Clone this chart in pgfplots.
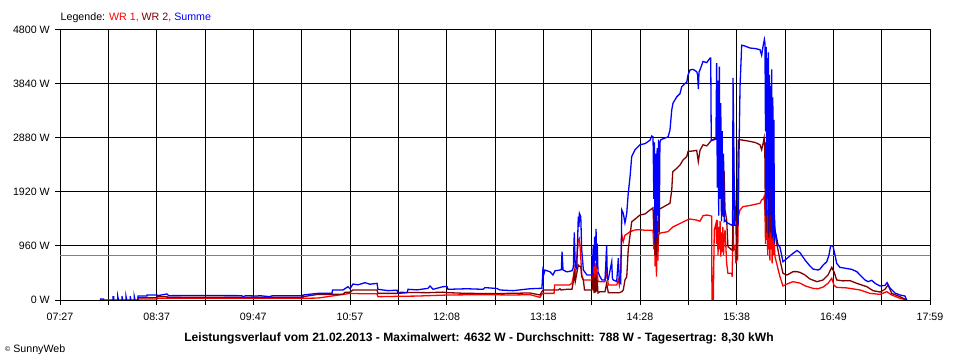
\documentclass[border=0pt]{standalone}
\usepackage{pgfplots}
\pgfplotsset{compat=1.18}
\usepackage{fontspec}
\setmainfont{Liberation Sans}
\definecolor{wrone}{RGB}{255,0,0}
\definecolor{wrtwo}{RGB}{128,0,0}
\definecolor{summe}{RGB}{0,0,255}
\definecolor{avgc}{RGB}{128,128,128}
\begin{document}
\fontsize{10.7}{12}\selectfont
\begin{tikzpicture}
\useasboundingbox (0,0) rectangle (960bp,360bp);
\begin{axis}[
  at={(60bp,60bp)}, anchor=south west,
  scale only axis, width=870bp, height=270bp,
  xmin=0, xmax=632, ymin=0, ymax=4800,
  axis line style={black, line width=1bp},
  xtick={0,70.222,140.444,210.667,280.889,351.111,421.333,491.556,561.778,632},
  xticklabels={07:27,08:37,09:47,10:57,12:08,13:18,14:28,15:38,16:49,17:59},
  minor xtick={35.111,105.333,175.556,245.778,316,386.222,456.444,526.667,596.889},
  ytick={0,960,1920,2880,3840,4800},
  yticklabels={0 W,960 W,1920 W,2880 W,3840 W,4800 W},
  xtick pos=left, ytick pos=left,
  tick align=outside,
  major tick length=5bp, minor tick length=5bp,
  tick style={black, line width=1bp},
  minor tick style={black, line width=1bp},
  xmajorgrids, xminorgrids, ymajorgrids,
  major grid style={black, line width=1bp},
  minor grid style={black, line width=1bp},
  xticklabel style={anchor=base, yshift=-15bp},
  yticklabel style={anchor=east, xshift=-1.5bp},
  every axis plot/.append style={line width=1.3bp, line join=miter},
]
\addplot[avgc, line width=1bp] coordinates {(0,788)(632,788)};
% WR 1
\addplot[wrone] coordinates {
(56.7,0)(56.7,18)(70.5,18)(70.5,30)(176.5,30)(187.4,35)(197.6,71)(210.7,118)(221.6,110)(230.3,110)(231,59)(244.8,65)(259.3,70)(281.9,89)(307.3,95)(329.1,89)(341.4,95)(348.7,47)(350.1,107)(350.9,118)(358.9,118)(359.3,267)(370,267)(371.9,296)(372.9,414)(373.6,533)(374.3,414)(376.5,1067)(377.3,1096)(378,890)(379,444)(380.2,356)(386.5,356)(387.4,600)(387.9,300)(388.4,770)(388.9,330)(389.4,650)(389.9,300)(390.3,500)(390.8,330)(392.3,326)(395.9,326)(397.1,533)(398.3,267)(404.4,267)(405.6,356)(406.3,270)(407.3,533)(408.1,1156)(409.2,1040)(410.4,1150)(412.8,1190)(414.1,1215)(417.7,1245)(421.3,1250)(425,1240)(430.8,1240)(431.4,900)(431.8,1200)(432.3,600)(432.8,1100)(433.3,414)(433.8,1000)(434.3,700)(434.8,1150)(435.8,1190)(441.7,1215)(445.3,1300)(450.4,1360)(455.3,1420)(457.7,1440)(462.5,1420)(464.9,1400)(467.1,1500)(469.8,1510)(472.2,1500)(473.4,1490)(473.6,0)(474.6,0)(475,770)(475.3,1245)(476.5,1360)(477,1000)(477.5,1420)(478,800)(478.5,1300)(479,900)(479.5,1400)(480,770)(480.5,1200)(481,850)(481.5,1300)(482,800)(482.5,1100)(483.1,1245)(484.3,650)(485.2,474)(487.9,474)(488.3,414)(488.9,1500)(489.4,900)(490.3,950)(491,650)(491.5,800)(492.2,700)(492.7,1480)(494,1600)(496.1,1660)(501.2,1680)(508.5,1720)(509.7,1780)(510.9,1800)(511.5,1840)(512.1,1600)(512.5,1000)(512.9,1700)(513.3,1070)(513.7,1600)(514.1,800)(514.5,1500)(514.9,900)(515.3,1700)(515.7,700)(516.1,1400)(516.5,900)(516.9,1500)(517.3,650)(517.7,1200)(518.1,800)(518.6,1100)(519.4,770)(520.6,650)(523,414)(525.2,249)(528.1,284)(532.5,326)(537.6,300)(541.5,249)(547,207)(550.7,200)(554.3,230)(557.9,296)(560.6,385)(562.3,260)(564.2,225)(571.5,215)(581.2,178)(588.4,118)(595.7,100)(600.6,148)(604.2,89)(610.2,30)(615.1,0)
};
% WR 2
\addplot[wrtwo] coordinates {
(56.7,0)(56.7,41)(70.5,41)(70.5,59)(77.7,59)(77.7,47)(176.5,47)(176.5,59)(187.4,100)(205.6,100)(207,136)(210.7,140)(212.8,178)(230.3,178)(231,118)(244.8,118)(247,136)(267.3,130)(278.2,140)(281.9,130)(295.6,118)(319.6,115)(341.4,125)(348.7,89)(350.1,148)(350.9,178)(362,178)(363.2,200)(364,178)(368,190)(371.9,190)(372.9,326)(373.6,474)(374.3,326)(376.5,622)(377.3,600)(378.3,600)(379,414)(380.2,356)(381,178)(386.5,178)(387.4,474)(387.9,124)(388.4,400)(388.9,130)(389.4,450)(389.9,150)(390.3,350)(390.8,124)(392.3,148)(395.9,148)(397.1,296)(398.3,130)(406.3,130)(408.1,148)(409.2,178)(410.4,356)(411.7,414)(412.8,900)(414.1,1150)(415.3,1390)(421.3,1510)(425,1530)(428.6,1600)(430.8,1640)(431.4,1200)(431.8,1600)(432.3,800)(432.8,1500)(433.3,770)(433.8,1400)(434.3,1000)(434.8,1600)(435.8,1620)(443.1,1720)(444.4,1955)(445.1,2280)(448,2340)(450.4,2400)(452.6,2490)(455.3,2550)(456.2,2640)(459.8,2650)(462.5,2660)(463.7,2460)(464.9,2660)(467.1,2760)(469.8,2740)(473.4,2840)(475.8,2870)(479.4,2870)(479.9,2000)(480.4,2800)(480.9,1600)(481.4,2500)(481.9,1480)(482.4,2300)(483.1,1600)(484.3,1420)(485.2,950)(487.9,890)(488.6,890)(488.9,2730)(489.6,2200)(490.3,1720)(491,1400)(491.5,710)(492.2,1500)(492.7,2840)(494,2850)(501.2,2820)(505,2800)(508.5,2760)(509.7,2670)(510.9,2800)(511.5,2880)(512,2700)(512.4,1500)(512.8,2800)(513.2,1200)(513.6,2600)(514,1800)(514.4,2800)(514.8,1100)(515.2,2400)(515.6,1500)(516,2600)(516.4,1200)(516.8,2200)(517.2,1400)(517.6,2000)(518,1100)(518.4,1800)(519.4,1245)(520.6,1010)(523,710)(525.2,474)(528.1,444)(532.5,504)(535.4,504)(537.6,490)(541.2,444)(544.8,373)(549.9,326)(554.3,356)(557.9,444)(560.6,580)(562.3,500)(564.2,356)(568.8,340)(573.9,344)(578.8,296)(586.1,237)(590.6,166)(595.7,142)(599.3,190)(601.5,267)(604.2,118)(610.2,59)(615.1,0)
};
% Summe
\addplot[summe] coordinates {
(29.5,0)(29.5,18)(31.5,18)(31.5,0)
(38.5,0)(38.5,59)(39,59)(39,0)(42,0)(42,59)(42.5,0)(45,0)(45,70)(45.5,0)(48,0)(48,59)(48.5,0)(51,0)(51,70)(51.5,0)(54,0)(54,59)(54.5,0)
(56.7,0)(56.7,70)(63.2,70)(63.2,89)(70.5,89)(70.5,75)(77.7,107)(79,77)(100,80)(132,77)(133,60)(135,77)(143,70)(145,77)(152,60)(154.7,77)(176.5,77)(176.5,89)(187.4,118)(197.6,118)(198,178)(205.6,178)(209.2,237)(210.7,200)(212.8,284)(216.5,270)(221.6,308)(225.2,280)(230.3,296)(231.0,190)(238.3,166)(244.8,175)(245.5,118)(252.1,130)(252.8,190)(259.3,180)(267.3,207)(268.8,249)(271,190)(278.2,237)(281.1,240)(281.9,190)(295.6,200)(307.3,190)(308.7,220)(317.4,205)(319.6,178)(329.1,166)(341.4,200)(348.7,207)
(350.1,210)(350.9,592)(351.4,450)(352.3,533)(356,500)(358.1,444)(359.6,520)(363.2,533)(364.2,540)(364.7,860)(365.4,533)(368.3,500)(371.9,520)(372.9,580)(373.6,1200)(374.3,600)(375.4,560)(376.5,1480)(377,1300)(377.3,1540)(378.3,1480)(379,890)(380.2,533)(382.8,444)(386.5,444)(387.4,978)(387.9,600)(388.4,1125)(388.9,700)(389.4,1262)(389.9,600)(390.3,1000)(390.8,500)(392.3,414)(393.7,356)(395.9,356)(397.1,960)(397.6,380)(398.3,370)(400.8,680)(401.3,380)(401.9,356)(404.4,330)(405.6,744)(406.3,330)(407.3,296)(407.8,1070)(408.1,1600)(409.2,1540)(410.4,1370)(411.7,1540)(412.8,1900)(414.1,2190)(415.3,2550)(417.7,2670)(421.3,2760)(425,2780)(428.6,2840)(429.8,2915)(430.8,2900)(431.4,1800)(431.8,2800)(432.3,1000)(432.8,2600)(433.3,1100)(433.8,2700)(434.3,1500)(434.8,2850)(435.3,1200)(435.8,2800)(436.5,2850)(439.5,2880)(441.7,2900)(443.1,3020)(444.4,3380)(445.3,3500)(448,3610)(450.4,3670)(451.6,3790)(454,3850)(455.3,3870)(456.2,4000)(457.7,4090)(459.8,4100)(462.5,4060)(463.2,4000)(463.7,3750)(464.2,4050)(464.9,4090)(467.1,4240)(469.8,4220)(472.2,4300)(472.7,4300)(473.1,2840)(474.1,2840)(476.5,2860)(477,4210)(477.5,2000)(478,3900)(478.5,1500)(479,4150)(479.5,1800)(480,3500)(480.5,1400)(481,3000)(481.5,1500)(482,2600)(482.5,1400)(483.1,1420)(484.3,1380)(487.9,1330)(488.6,1330)(488.9,3950)(489.4,3000)(490,1330)(491.5,1330)(492.7,1360)(493.2,2500)(494,3800)(495.2,4530)(497,4520)(501.2,4480)(505,4470)(508.5,4450)(509.7,4350)(510.3,4450)(511,4550)(511.7,4632)(512.1,4560)(512.5,3000)(513,4500)(513.4,1500)(513.8,4300)(514.2,2500)(514.6,4400)(515,1200)(515.4,4000)(515.8,2000)(516.2,3800)(516.6,1500)(517,4100)(517.4,1100)(517.8,3600)(518.2,1800)(518.6,3200)(519,1000)(519.4,1240)(520.6,1100)(521.6,980)(523,940)(525.2,680)(528.1,740)(532.5,830)(535.4,880)(537.6,840)(541.2,710)(544.8,604)(547,550)(550.7,533)(552.1,550)(554.3,620)(557,680)(558.6,800)(559.8,960)(561.5,960)(563,800)(564.2,650)(566.6,580)(571.5,560)(575.1,545)(578.8,504)(581.2,444)(584.8,356)(587,326)(589.7,350)(592.1,296)(595.7,249)(599.3,260)(600.8,308)(602.9,213)(606.6,124)(610.2,89)(613.8,71)(615.1,0)
};
\end{axis}
\node[anchor=base west, inner sep=0pt] at (60.5bp,339.3bp) {Legende: \textcolor{wrone}{WR 1,} \textcolor{wrtwo}{WR 2,} \textcolor{summe}{Summe}};
\node[anchor=base, inner sep=0pt] at (479bp,19bp) {\fontsize{12.1}{14}\selectfont\bfseries Leistungsverlauf vom 21.02.2013 - Maximalwert: 4632 W - Durchschnitt: 788 W - Tagesertrag: 8,30 kWh};
\node[anchor=base west, inner sep=0pt] at (5bp,7.5bp) {\raisebox{1.5bp}{\fontsize{7}{8}\selectfont ©} SunnyWeb};
\end{tikzpicture}
\end{document}
